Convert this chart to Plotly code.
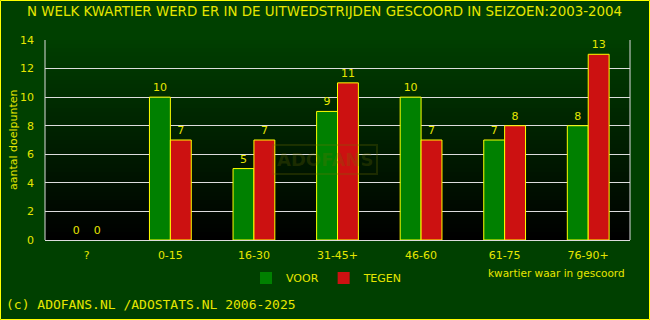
import plotly.graph_objects as go

categories = ["?", "0-15", "16-30", "31-45+", "46-60", "61-75", "76-90+"]
voor = [0, 10, 5, 9, 10, 7, 8]
tegen = [0, 7, 7, 11, 7, 8, 13]
y_ticks = [0, 2, 4, 6, 8, 10, 12, 14]

YEL = "#e6e600"
W, H = 650, 320
L, R, T, B = 45, 20, 40, 80
PW, PH = W - L - R, H - T - B

def bar_line(vals):
    return [1 if v > 0 else 0 for v in vals]

fig = go.Figure()
fig.add_trace(go.Bar(name="VOOR", x=categories, y=voor,
                     marker=dict(color="#008000", line=dict(color="#ffff00", width=bar_line(voor))),
                     text=voor, textposition="outside", textfont=dict(color=YEL, size=11), cliponaxis=False))
fig.add_trace(go.Bar(name="TEGEN", x=categories, y=tegen,
                     marker=dict(color="#cc1111", line=dict(color="#ffff00", width=bar_line(tegen))),
                     text=tegen, textposition="outside", textfont=dict(color=YEL, size=11), cliponaxis=False))

shapes = []
# gradient background of plot area
n = 50
for i in range(n):
    f = i / (n - 1)
    g = int(round(62 * f))
    shapes.append(dict(type="rect", xref="x domain", yref="y domain", x0=0, x1=1,
                       y0=i / n, y1=(i + 1) / n, fillcolor=f"rgb(0,{g},0)", line=dict(width=0), layer="below"))
# outer yellow border
shapes.append(dict(type="rect", xref="paper", yref="paper",
                   x0=-(L - 0.5) / PW, x1=(W - L - 0.5) / PW,
                   y0=-(B - 0.5) / PH, y1=1 + (T - 0.5) / PH,
                   line=dict(color="#ffff00", width=1), fillcolor="rgba(0,0,0,0)"))
# plot frame sides
shapes.append(dict(type="line", xref="paper", yref="paper", x0=0, x1=0, y0=0, y1=1, line=dict(color="#dddddd", width=1)))
shapes.append(dict(type="line", xref="paper", yref="paper", x0=1, x1=1, y0=0, y1=1, line=dict(color="#dddddd", width=1)))

annotations = [
    dict(text="N WELK KWARTIER WERD ER IN DE UITWEDSTRIJDEN GESCOORD IN SEIZOEN:2003-2004",
         xref="paper", yref="paper", x=(324 - L) / PW, y=1 + (T - 12) / PH, showarrow=False,
         font=dict(color=YEL, size=13.4, family="DejaVu Sans"), xanchor="center", yanchor="middle"),
    dict(text="aantal doelpunten", xref="paper", yref="paper", x=(13 - L) / PW, y=(240 - 140) / PH,
         textangle=-90, showarrow=False, font=dict(color=YEL, size=11, family="DejaVu Sans"),
         xanchor="center", yanchor="middle"),
    dict(text="kwartier waar in gescoord", xref="paper", yref="paper", x=(627 - L) / PW, y=-(273 - 240) / PH,
         showarrow=False, font=dict(color=YEL, size=10.5, family="DejaVu Sans"), xanchor="right", yanchor="middle"),
    dict(text="(c) ADOFANS.NL /ADOSTATS.NL 2006-2025", xref="paper", yref="paper", x=(4 - L) / PW,
         y=-(304 - 240) / PH, showarrow=False, font=dict(color=YEL, size=13, family="DejaVu Sans Mono"),
         xanchor="left", yanchor="middle"),
    dict(text="<b>ADOFANS</b>", xref="paper", yref="paper", x=(325 - L) / PW, y=(240 - 159) / PH,
         showarrow=False, font=dict(color="rgba(110,110,0,0.25)", size=18, family="DejaVu Sans"),
         bordercolor="rgba(110,110,0,0.25)", borderwidth=2, borderpad=3, xanchor="center", yanchor="middle"),
]

fig.update_layout(
    width=W, height=H,
    margin=dict(l=L, r=R, t=T, b=B),
    paper_bgcolor="#004000",
    plot_bgcolor="#000000",
    barmode="group", bargap=0.5, bargroupgap=0,
    font=dict(family="DejaVu Sans", color=YEL, size=11),
    showlegend=True,
    legend=dict(orientation="h", x=(246 - L) / PW, y=-(278 - 240) / PH, xanchor="left", yanchor="middle",
                font=dict(color=YEL, size=11), bgcolor="rgba(0,0,0,0)", itemwidth=30, traceorder="normal"),
    shapes=shapes,
    annotations=annotations,
    xaxis=dict(showgrid=False, showline=False, ticks="", tickfont=dict(color=YEL, size=11), fixedrange=True,
               ticklabelstandoff=7),
    yaxis=dict(range=[0, 14], tickvals=y_ticks, showgrid=True, gridcolor="#dddddd", gridwidth=1,
               zeroline=True, zerolinecolor="#dddddd", zerolinewidth=1, showline=False, ticks="",
               tickfont=dict(color=YEL, size=11), fixedrange=True, ticklabelstandoff=10),
)

fig.write_html("out.html")
